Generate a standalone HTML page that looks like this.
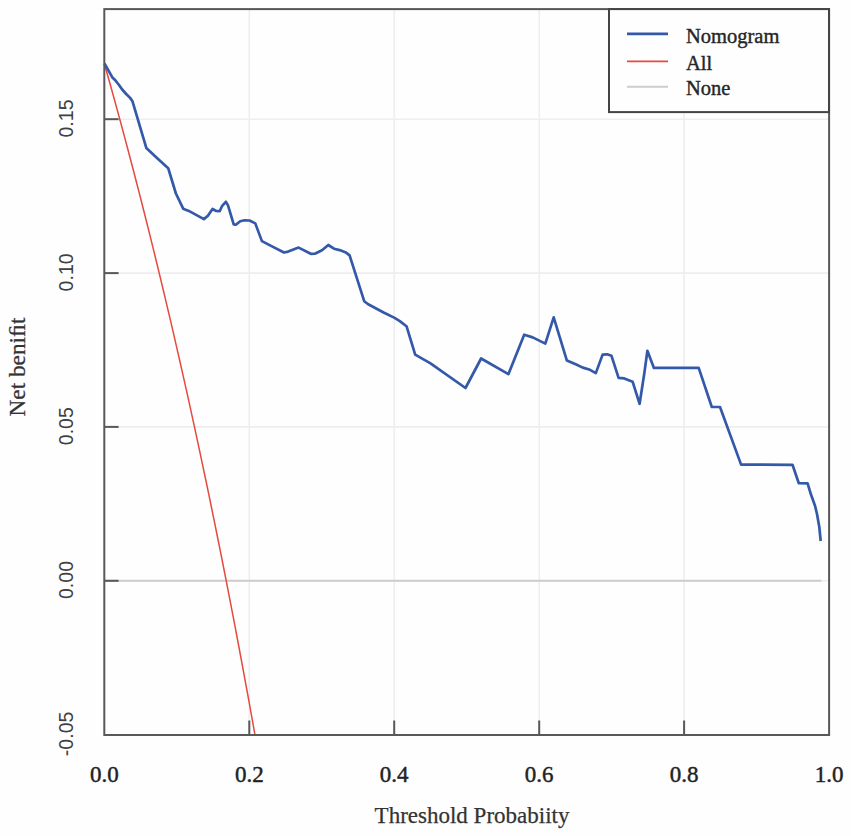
<!DOCTYPE html>
<html><head><meta charset="utf-8"><style>
html,body{margin:0;padding:0;background:#fefefe;}
svg{display:block;}
</style></head><body>
<svg width="851" height="836" viewBox="0 0 851 836">
<rect x="0" y="0" width="851" height="836" fill="#fefefe"/>
<g stroke="#eeeeee" stroke-width="1.6" fill="none"><line x1="249.3" y1="9" x2="249.3" y2="735" /><line x1="394.2" y1="9" x2="394.2" y2="735" /><line x1="539.2" y1="9" x2="539.2" y2="735" /><line x1="684.1" y1="9" x2="684.1" y2="735" /><line x1="104" y1="580.8" x2="829" y2="580.8" /><line x1="104" y1="426.9" x2="829" y2="426.9" /><line x1="104" y1="273.1" x2="829" y2="273.1" /><line x1="104" y1="119.2" x2="829" y2="119.2" /></g>
<line x1="104" y1="580.75" x2="821.5" y2="580.75" stroke="#cdcdcd" stroke-width="2"/>
<polyline points="104.3,63.4 107.2,73.7 110.1,84.0 113.0,94.5 115.9,105.0 118.8,115.6 121.7,126.3 124.6,137.1 127.5,148.0 130.4,159.0 133.3,170.0 136.2,181.2 139.1,192.4 142.0,203.8 144.9,215.2 147.8,226.8 150.7,238.4 153.6,250.1 156.5,262.0 159.4,273.9 162.3,286.0 165.2,298.1 168.1,310.4 171.0,322.7 173.9,335.2 176.8,347.8 179.7,360.5 182.6,373.3 185.5,386.2 188.4,399.2 191.3,412.4 194.2,425.7 197.1,439.1 200.0,452.6 202.9,466.3 205.8,480.0 208.7,493.9 211.6,508.0 214.5,522.2 217.4,536.5 220.3,550.9 223.2,565.5 226.1,580.2 229.0,595.1 231.9,610.1 234.8,625.2 237.7,640.5 240.6,656.0 243.5,671.6 246.4,687.3 249.3,703.2 252.2,719.3 255.1,735.6 258.0,752.0" fill="none" stroke="#e5493f" stroke-width="1.5" clip-path="url(#pc)"/>
<defs><clipPath id="pc"><rect x="104" y="9" width="725" height="726"/></clipPath></defs>
<polyline points="104.4,63.5 108.7,70.9 112.2,77.2 115.5,80.5 119.0,85.0 122.2,89.5 126.2,94.0 130.1,97.9 132.5,101.3 146.3,147.9 157.8,158.8 168.2,168.2 175.9,193.5 183.2,208.7 188.8,210.9 203.9,219.1 207.9,215.8 212.5,209.0 215.8,210.8 219.7,211.2 222.2,205.8 225.8,201.8 228.0,205.4 233.7,224.4 235.9,224.7 240.2,221.2 244.5,220.3 249.5,220.5 255.3,223.4 261.9,241.1 272.5,246.6 284.0,252.5 288.2,251.6 298.6,247.6 310.8,253.8 314.9,253.7 322.0,250.3 328.3,245.0 334.0,248.7 339.6,250.1 345.3,252.2 349.6,255.3 364.2,301.2 368.2,304.3 383.6,312.5 394.6,317.9 399.8,321.1 406.5,326.2 415.2,354.6 430.5,363.4 465.5,388.0 481.1,358.5 508.4,374.2 524.2,334.7 532.7,337.4 545.3,343.6 553.7,317.3 566.9,360.6 575.7,364.2 582.8,367.6 590.0,369.8 595.8,373.1 602.6,354.6 607.1,354.3 611.5,355.8 618.6,377.9 624.3,378.4 632.6,381.7 639.6,403.8 644.4,372.7 647.4,350.8 653.9,367.9 698.7,367.9 711.8,407.0 720.0,407.0 741.1,464.6 792.5,464.8 798.8,483.2 807.6,483.3 810.9,494.3 815.1,506.0 817.0,514.0 819.3,527.0 820.7,541.0" fill="none" stroke="#3459a9" stroke-width="2.7" stroke-linejoin="round" stroke-linecap="butt"/>
<g stroke="#585858" stroke-width="2" fill="none"><line x1="249.3" y1="735" x2="249.3" y2="720.5" /><line x1="394.2" y1="735" x2="394.2" y2="720.5" /><line x1="539.2" y1="735" x2="539.2" y2="720.5" /><line x1="684.1" y1="735" x2="684.1" y2="720.5" /><line x1="104" y1="580.8" x2="118.6" y2="580.8" /><line x1="104" y1="426.9" x2="118.6" y2="426.9" /><line x1="104" y1="273.1" x2="118.6" y2="273.1" /><line x1="104" y1="119.2" x2="118.6" y2="119.2" />
<rect x="104.3" y="9.1" width="724.8" height="725.9"/>
</g>
<rect x="609" y="9.1" width="220" height="103" fill="#fefefe" stroke="#444" stroke-width="2"/>
<line x1="627" y1="33.8" x2="668" y2="33.8" stroke="#3459a9" stroke-width="2.7"/>
<line x1="627" y1="61.4" x2="668" y2="61.4" stroke="#e5493f" stroke-width="1.8"/>
<line x1="627" y1="86.8" x2="668" y2="86.8" stroke="#cdcdcd" stroke-width="2"/>
<g font-family="Liberation Serif" font-size="20.5" fill="#262626" stroke="#262626" stroke-width="0.4">
<text x="686" y="43.3">Nomogram</text>
<text x="686" y="69.9">All</text>
<text x="686" y="95.1">None</text>
</g>
<g font-family="Liberation Serif" font-size="23" fill="#222" stroke="#222" stroke-width="0.45" text-anchor="middle"><text x="104.3" y="782">0.0</text><text x="249.3" y="782">0.2</text><text x="394.2" y="782">0.4</text><text x="539.2" y="782">0.6</text><text x="684.1" y="782">0.8</text><text x="829.1" y="782">1.0</text></g>
<g font-family="Liberation Sans" font-size="21" fill="#404040" text-anchor="middle"><text transform="translate(73.3,733.9) rotate(-90) scale(0.93,1)">-0.05</text><text transform="translate(73.3,580.0) rotate(-90) scale(0.93,1)">0.00</text><text transform="translate(73.3,426.2) rotate(-90) scale(0.93,1)">0.05</text><text transform="translate(73.3,272.4) rotate(-90) scale(0.93,1)">0.10</text><text transform="translate(73.3,118.5) rotate(-90) scale(0.93,1)">0.15</text></g>
<text x="472" y="823" font-family="Liberation Serif" font-size="23" fill="#333" stroke="#333" stroke-width="0.25" text-anchor="middle">Threshold Probabiity</text>
<text transform="translate(25,367) rotate(-90)" font-family="Liberation Serif" font-size="23.3" fill="#333" stroke="#333" stroke-width="0.25" text-anchor="middle">Net beni&#xFB01;t</text>
</svg>
</body></html>
